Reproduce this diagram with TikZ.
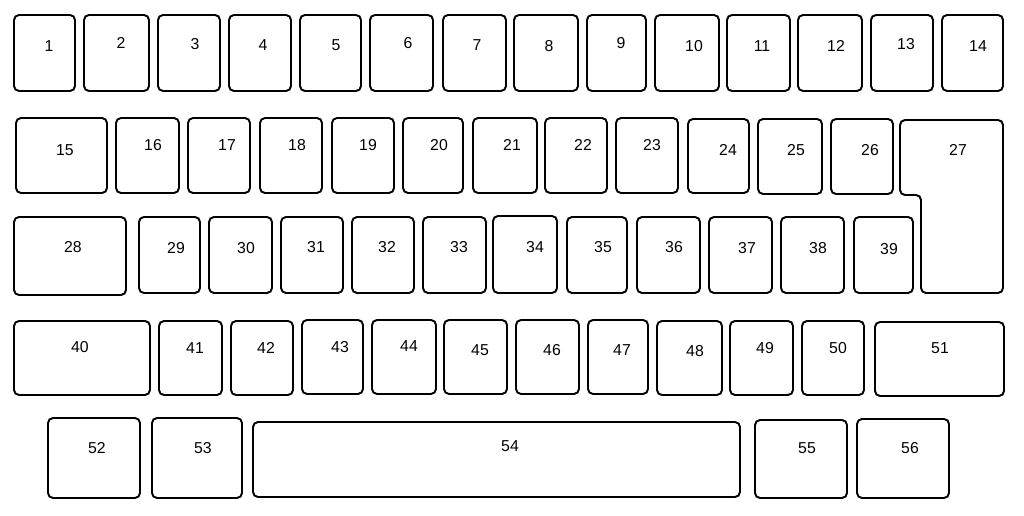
\documentclass[tikz,border=0pt]{standalone}
\usepackage{fontspec}
\setmainfont{Liberation Sans}
\usepackage{tikz}

\begin{document}
\begin{tikzpicture}[x=0.02cm, y=-0.02cm,
    keycap/.style={draw=black, line width=1.1pt, rounded corners=0.1cm},
    keynum/.style={inner sep=0pt, font=\fontsize{9}{10}\selectfont}]
  \useasboundingbox (0,0) rectangle (1024,516);
  % first row
  \draw[keycap] (14,15) rectangle (75,91);    \node[keynum] (k1) at (49,46) {1};
  \draw[keycap] (84,15) rectangle (149,91);   \node[keynum] (k2) at (121,43) {2};
  \draw[keycap] (158,15) rectangle (220,91);  \node[keynum] (k3) at (195,44) {3};
  \draw[keycap] (229,15) rectangle (291,91);  \node[keynum] (k4) at (263,45) {4};
  \draw[keycap] (300,15) rectangle (361,91);  \node[keynum] (k5) at (336,45) {5};
  \draw[keycap] (370,15) rectangle (433,91);  \node[keynum] (k6) at (408,43) {6};
  \draw[keycap] (443,15) rectangle (506,91);  \node[keynum] (k7) at (477,45) {7};
  \draw[keycap] (514,15) rectangle (578,91);  \node[keynum] (k8) at (549,46) {8};
  \draw[keycap] (587,15) rectangle (646,91);  \node[keynum] (k9) at (621,43) {9};
  \draw[keycap] (655,15) rectangle (719,91);  \node[keynum] (k10) at (694,46) {10};
  \draw[keycap] (727,15) rectangle (790,91);  \node[keynum] (k11) at (762,46) {11};
  \draw[keycap] (798,15) rectangle (862,91);  \node[keynum] (k12) at (836,46) {12};
  \draw[keycap] (871,15) rectangle (933,91);  \node[keynum] (k13) at (906,44) {13};
  \draw[keycap] (942,15) rectangle (1003,91); \node[keynum] (k14) at (978,46) {14};
  % second row
  \draw[keycap] (16,118) rectangle (107,193);  \node[keynum] (k15) at (65,150) {15};
  \draw[keycap] (116,118) rectangle (179,193); \node[keynum] (k16) at (153,145) {16};
  \draw[keycap] (188,118) rectangle (250,193); \node[keynum] (k17) at (227,145) {17};
  \draw[keycap] (260,118) rectangle (322,193); \node[keynum] (k18) at (297,145) {18};
  \draw[keycap] (332,118) rectangle (394,193); \node[keynum] (k19) at (368,145) {19};
  \draw[keycap] (403,118) rectangle (463,193); \node[keynum] (k20) at (439,145) {20};
  \draw[keycap] (473,118) rectangle (537,193); \node[keynum] (k21) at (512,145) {21};
  \draw[keycap] (545,118) rectangle (607,193); \node[keynum] (k22) at (583,145) {22};
  \draw[keycap] (616,118) rectangle (678,193); \node[keynum] (k23) at (652,145) {23};
  \draw[keycap] (688,119) rectangle (749,193); \node[keynum] (k24) at (728,150) {24};
  \draw[keycap] (758,119) rectangle (822,194); \node[keynum] (k25) at (796,150) {25};
  \draw[keycap] (831,119) rectangle (893,194); \node[keynum] (k26) at (870,150) {26};
  \draw[keycap] (900,120) -- (1003,120) -- (1003,293) -- (921,293) -- (921,195) -- (900,195) -- cycle;
  \node[keynum] (k27) at (958,150) {27};
  % third row
  \draw[keycap] (14,217) rectangle (126,295);  \node[keynum] (k28) at (73,247) {28};
  \draw[keycap] (139,217) rectangle (200,293); \node[keynum] (k29) at (176,248) {29};
  \draw[keycap] (209,217) rectangle (272,293); \node[keynum] (k30) at (246,248) {30};
  \draw[keycap] (281,217) rectangle (343,293); \node[keynum] (k31) at (316,247) {31};
  \draw[keycap] (352,217) rectangle (414,293); \node[keynum] (k32) at (387,247) {32};
  \draw[keycap] (423,217) rectangle (486,293); \node[keynum] (k33) at (459,247) {33};
  \draw[keycap] (493,216) rectangle (557,293); \node[keynum] (k34) at (535,247) {34};
  \draw[keycap] (567,217) rectangle (627,293); \node[keynum] (k35) at (603,247) {35};
  \draw[keycap] (637,217) rectangle (700,293); \node[keynum] (k36) at (674,247) {36};
  \draw[keycap] (709,217) rectangle (772,293); \node[keynum] (k37) at (747,248) {37};
  \draw[keycap] (781,217) rectangle (844,293); \node[keynum] (k38) at (818,248) {38};
  \draw[keycap] (854,217) rectangle (913,293); \node[keynum] (k39) at (889,249) {39};
  % fourth row
  \draw[keycap] (14,321) rectangle (150,395);  \node[keynum] (k40) at (80,347) {40};
  \draw[keycap] (159,321) rectangle (222,395); \node[keynum] (k41) at (195,348) {41};
  \draw[keycap] (231,321) rectangle (293,395); \node[keynum] (k42) at (266,348) {42};
  \draw[keycap] (302,320) rectangle (363,394); \node[keynum] (k43) at (340,347) {43};
  \draw[keycap] (372,320) rectangle (436,394); \node[keynum] (k44) at (409,346) {44};
  \draw[keycap] (444,320) rectangle (507,394); \node[keynum] (k45) at (480,350) {45};
  \draw[keycap] (516,320) rectangle (579,394); \node[keynum] (k46) at (552,350) {46};
  \draw[keycap] (588,320) rectangle (648,394); \node[keynum] (k47) at (622,350) {47};
  \draw[keycap] (657,321) rectangle (722,395); \node[keynum] (k48) at (695,351) {48};
  \draw[keycap] (730,321) rectangle (793,395); \node[keynum] (k49) at (765,348) {49};
  \draw[keycap] (802,321) rectangle (864,395); \node[keynum] (k50) at (838,348) {50};
  \draw[keycap] (875,322) rectangle (1004,396); \node[keynum] (k51) at (940,348) {51};
  % fifth row
  \draw[keycap] (48,418) rectangle (140,498);  \node[keynum] (k52) at (97,448) {52};
  \draw[keycap] (152,418) rectangle (242,498); \node[keynum] (k53) at (203,448) {53};
  \draw[keycap] (253,422) rectangle (740,497); \node[keynum] (k54) at (510,446) {54};
  \draw[keycap] (755,420) rectangle (847,498); \node[keynum] (k55) at (807,448) {55};
  \draw[keycap] (857,419) rectangle (949,498); \node[keynum] (k56) at (910,448) {56};
\end{tikzpicture}
\end{document}
